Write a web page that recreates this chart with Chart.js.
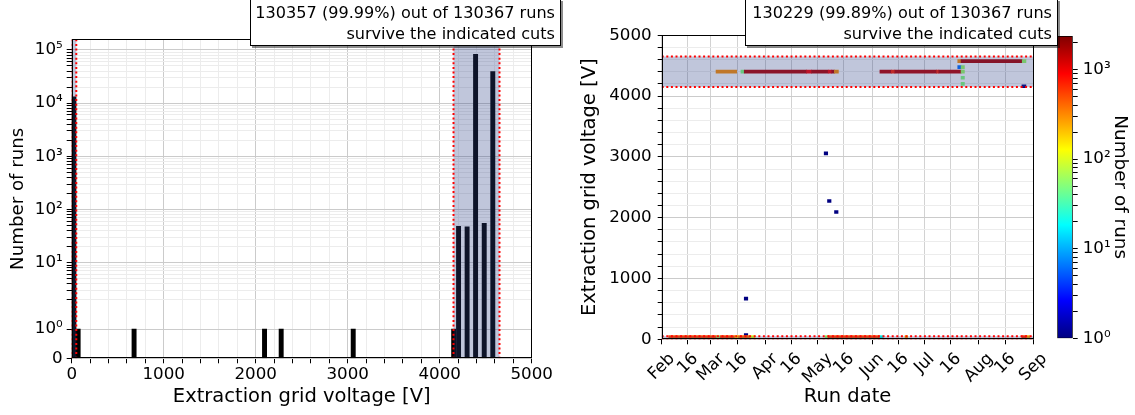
<!DOCTYPE html>
<html>
<head>
<meta charset="utf-8">
<script src="https://cdn.jsdelivr.net/npm/chart.js@4"></script>
<style>
  html, body { margin: 0; padding: 0; background: #fff; }
  #wrap { position: relative; width: 1135px; height: 415px; overflow: hidden; font-family: 'DejaVu Sans', sans-serif; }
  canvas { position: absolute; top: 0; }
  .cutbox {
    position: absolute; top: -1px; height: 47px; box-sizing: border-box;
    border: 1px solid #000; background: #fff; text-align: right;
    font-size: 16.1px; line-height: 21px; padding: 2px 5px 0 0;
    box-shadow: 2px 2px 0 rgba(0, 0, 0, 0.45); z-index: 5; white-space: nowrap;
  }
</style>
</head>
<body>
<div id="wrap">
  <canvas id="histChart" width="565" height="415" style="left:0"></canvas>
  <canvas id="dateChart" width="485" height="415" style="left:575px"></canvas>
  <canvas id="cbarChart" width="95" height="415" style="left:1040px"></canvas>
  <div class="cutbox" style="left:250px;width:311px">130357 (99.99%) out of 130367 runs<br>survive the indicated cuts</div>
  <div class="cutbox" style="left:745px;width:313px">130229 (99.89%) out of 130367 runs<br>survive the indicated cuts</div>
</div>
<script>
// left panel: histogram of extraction grid voltage (bin centres in V)
const binCenters = [23.5, 70, 678, 2096, 2277, 3060, 4152, 4205, 4298, 4390, 4484, 4577];
const binCounts = [13200, 1, 1, 1, 1, 1, 1, 48, 47, 83000, 55, 39100];

// accepted voltage windows [V]
const cutWindows = [[0, 50], [4150, 4650]];

// right panel: 2D histogram cells, voltage vs run date (day 0 = Feb 1)
const cellStart = [31.0, 45.2, 47.1, 82.7, 85.5, 95.0, 97.0, 98.5,
  124.5, 131.0, 133.0, 156.9, 158.1, 170.8,
  168.9, 170.8, 205.7,
  168.9, 170.8, 170.8, 170.8, 205.5,
  92.7, 94.6, 98.6, 47.1, 47.1,
  4.0, 31.4, 33.3, 41.8, 43.8, 50.3, 93.2, 95.0, 124.5, 138.8, 205.4, 208.2];
const cellEnd = [42.8, 47.1, 82.7, 85.5, 95.0, 97.0, 98.5, 100.8,
  131.0, 133.0, 156.9, 158.1, 170.8, 172.7,
  170.8, 205.7, 207.8,
  170.8, 172.7, 172.7, 172.7, 207.8,
  94.7, 96.6, 100.6, 49.1, 49.1,
  31.4, 33.3, 41.8, 43.8, 50.3, 53.2, 95.0, 124.5, 126.4, 140.3, 208.2, 210.1];
const cellVolt = [4400, 4400, 4400, 4400, 4400, 4400, 4400, 4400,
  4400, 4400, 4400, 4400, 4400, 4400,
  4575, 4575, 4575,
  4475, 4475, 4300, 4200, 4160,
  3058, 2274, 2093, 668, 71,
  38, 38, 38, 38, 38, 38, 38, 38, 38, 38, 38, 38];
const cellCount = [300, 50, 1600, 900, 1600, 900, 1600, 300,
  1500, 700, 1500, 700, 1500, 60,
  300, 1700, 60,
  6, 60, 50, 50, 1,
  1, 1, 1, 1, 1,
  500, 60, 500, 150, 400, 100, 60, 500, 20, 200, 600, 250];

const dateTickDays = [0, 15, 28, 43, 59, 74, 89, 104, 120, 135, 150, 165, 181, 196, 212];
const dateTickLabels = ['Feb', '16', 'Mar', '16', 'Apr', '16', 'May', '16', 'Jun', '16', 'Jul', '16', 'Aug', '16', 'Sep'];

const runsTicks = [0, 1, 10, 100, 1000, 10000, 100000];
const runsTickLabels = ['0', '10⁰', '10¹', '10²', '10³', '10⁴', '10⁵'];
const countTicks = [1, 10, 100, 1000];
const countTickLabels = ['10⁰', '10¹', '10²', '10³'];
const CMAX = 2360;

const TICK_FONT = 16.7;
Chart.defaults.font.family = "'DejaVu Sans', sans-serif";
Chart.defaults.font.size = TICK_FONT;
Chart.defaults.color = '#000';
Chart.defaults.animation = false;

const MAJOR_GRID = '#cbcbcb';
const MINOR_GRID = '#ececec';
const SHADE = 'rgba(45, 65, 135, 0.3)';

function jet(t) {
  const c = v => Math.round(255 * Math.max(0, Math.min(1, v)));
  return 'rgb(' + c(1.5 - Math.abs(4 * t - 3)) + ',' + c(1.5 - Math.abs(4 * t - 2)) + ',' + c(1.5 - Math.abs(4 * t - 1)) + ')';
}
function countColor(n) {
  return jet(Math.log10(n) / Math.log10(CMAX));
}

// minor ticks 2..9 per decade
function withMinors(majors, fromDecade, toDecade) {
  const out = majors.slice();
  for (let k = fromDecade; k <= toDecade; k++) {
    for (let m = 2; m <= 9; m++) out.push(m * Math.pow(10, k));
  }
  return out.sort((a, b) => a - b);
}

// symmetric log axis, linear below 2
const LIN_THRESH = 2, LIN_SCALE = 0.55;
class SymlogScale extends Chart.LinearScale {
  tf(v) {
    return v <= LIN_THRESH ? v * LIN_SCALE : LIN_THRESH * LIN_SCALE + Math.log10(v / LIN_THRESH);
  }
  itf(t) {
    return t <= LIN_THRESH * LIN_SCALE ? t / LIN_SCALE : LIN_THRESH * Math.pow(10, t - LIN_THRESH * LIN_SCALE);
  }
  buildTicks() {
    return withMinors(runsTicks, 0, 4).map(v => ({ value: v }));
  }
  getPixelForValue(v) {
    const a = this.tf(this.min), b = this.tf(this.max);
    return this.getPixelForDecimal((this.tf(v) - a) / (b - a));
  }
  getValueForPixel(p) {
    const a = this.tf(this.min), b = this.tf(this.max);
    return this.itf(a + this.getDecimalForPixel(p) * (b - a));
  }
}
SymlogScale.id = 'symlog';
SymlogScale.defaults = {};
Chart.register(SymlogScale);

const framePlugin = {
  id: 'frame',
  afterDraw(chart) {
    const { ctx, chartArea: a } = chart;
    ctx.save();
    ctx.strokeStyle = '#000';
    ctx.lineWidth = 1;
    ctx.strokeRect(Math.round(a.left) + 0.5, Math.round(a.top) + 0.5, Math.round(a.right - a.left) - 1, Math.round(a.bottom - a.top) - 1);
    ctx.restore();
  }
};

function cutPlugin(axisKey) {
  return {
    id: 'cuts',
    afterDatasetsDraw(chart) {
      const { ctx, chartArea: a } = chart;
      const s = chart.scales[axisKey];
      ctx.save();
      ctx.beginPath();
      ctx.rect(a.left, a.top, a.right - a.left, a.bottom - a.top);
      ctx.clip();
      cutWindows.forEach(([lo, hi]) => {
        const p0 = s.getPixelForValue(lo), p1 = s.getPixelForValue(hi);
        ctx.fillStyle = SHADE;
        if (axisKey === 'x') ctx.fillRect(p0, a.top, p1 - p0, a.bottom - a.top);
        else ctx.fillRect(a.left, p1, a.right - a.left, p0 - p1);
        ctx.strokeStyle = '#ff0000';
        ctx.lineWidth = 2;
        ctx.setLineDash([2, 2.6]);
        [p0, p1].forEach(p => {
          ctx.beginPath();
          if (axisKey === 'x') { ctx.moveTo(p, a.top); ctx.lineTo(p, a.bottom); }
          else { ctx.moveTo(a.left, p); ctx.lineTo(a.right, p); }
          ctx.stroke();
        });
      });
      ctx.restore();
    }
  };
}

// rotated date labels, centred under their ticks like matplotlib's default
const dateLabelPlugin = {
  id: 'dateLabels',
  afterDraw(chart) {
    const s = chart.scales.x, ctx = chart.ctx;
    const ang = 45 * Math.PI / 180;
    const inkH = 0.76 * TICK_FONT;
    ctx.save();
    ctx.font = TICK_FONT + "px 'DejaVu Sans', sans-serif";
    ctx.fillStyle = '#000';
    ctx.textAlign = 'center';
    ctx.textBaseline = 'middle';
    s.ticks.forEach((t, i) => {
      const txt = dateTickLabels[i];
      const w = ctx.measureText(txt).width;
      const boxH = w * Math.sin(ang) + inkH * Math.cos(ang);
      ctx.save();
      ctx.translate(s.getPixelForValue(t.value), chart.chartArea.bottom + 12.5 + boxH / 2);
      ctx.rotate(-ang);
      ctx.fillText(txt, 0, 0);
      ctx.restore();
    });
    ctx.restore();
  }
};

// left: histogram
new Chart(document.getElementById('histChart'), {
  type: 'bar',
  data: {
    datasets: [{
      data: binCenters.map((x, i) => ({ x: x, y: binCounts[i] })),
      backgroundColor: '#000',
      borderWidth: 0,
      barPercentage: 1,
      categoryPercentage: 1
    }]
  },
  options: {
    responsive: false,
    animation: false,
    layout: { padding: { top: 39.3, right: 33.3, left: 0, bottom: 0 } },
    plugins: { legend: { display: false }, tooltip: { enabled: false } },
    scales: {
      x: {
        type: 'linear', min: 0, max: 5000, offset: false, z: 1,
        ticks: { stepSize: 200, autoSkip: false, maxRotation: 0, padding: 1,
          callback: v => (v % 1000 === 0 ? String(v) : '') },
        grid: { offset: false, tickLength: 5, tickColor: '#000',
          color: c => (c.tick && c.tick.value % 1000 === 0 ? MAJOR_GRID : MINOR_GRID) },
        border: { display: false },
        title: { display: true, text: 'Extraction grid voltage [V]', font: { size: 19.5 }, padding: { top: 0, bottom: 6.5 } },
        afterFit: ax => { ax.height = 56.7; }
      },
      y: {
        type: 'symlog', min: 0, max: 158900, z: 1,
        ticks: { autoSkip: false, padding: 4,
          callback: v => { const i = runsTicks.indexOf(v); return i >= 0 ? runsTickLabels[i] : ''; } },
        grid: { tickLength: 5, tickColor: '#000',
          color: c => (c.tick && runsTicks.indexOf(c.tick.value) >= 0 ? MAJOR_GRID : MINOR_GRID) },
        border: { display: false },
        title: { display: true, text: 'Number of runs', font: { size: 18.2 }, padding: { top: 7, bottom: 0 } },
        afterFit: ax => { ax.width = 71.7; }
      }
    }
  },
  plugins: [cutPlugin('x'), framePlugin]
});

// right: voltage vs date
new Chart(document.getElementById('dateChart'), {
  type: 'bar',
  data: {
    datasets: [{
      data: cellVolt.map((v, i) => ({ y: v, x: [cellStart[i], cellEnd[i]] })),
      backgroundColor: c => countColor(cellCount[c.dataIndex]),
      borderWidth: 0,
      barThickness: 3
    }]
  },
  options: {
    indexAxis: 'y',
    responsive: false,
    animation: false,
    layout: { padding: { top: 35.2, right: 26.7, left: 0, bottom: 0 } },
    plugins: { legend: { display: false }, tooltip: { enabled: false } },
    scales: {
      x: {
        type: 'linear', min: 0, max: 212,
        afterBuildTicks: ax => { ax.ticks = dateTickDays.map(v => ({ value: v })); },
        ticks: { display: false, autoSkip: false },
        grid: { color: '#d2d2d2', tickLength: 5, tickColor: '#000' },
        border: { display: false },
        title: { display: true, text: 'Run date', font: { size: 19.5 }, padding: { top: 0, bottom: 6.5 } },
        afterFit: ax => { ax.height = 75.7; }
      },
      y: {
        type: 'linear', min: 0, max: 5000, offset: false,
        ticks: { stepSize: 200, autoSkip: false, padding: 6,
          callback: v => (v % 1000 === 0 ? String(v) : '') },
        grid: { offset: false, tickLength: 4, tickColor: '#000',
          color: c => (c.tick && c.tick.value % 1000 === 0 ? MAJOR_GRID : MINOR_GRID) },
        border: { display: false },
        title: { display: true, text: 'Extraction grid voltage [V]', font: { size: 19.5 }, padding: { top: 3.3, bottom: 0 } },
        afterFit: ax => { ax.width = 86.7; }
      }
    }
  },
  plugins: [cutPlugin('y'), framePlugin, dateLabelPlugin]
});

// colour bar
new Chart(document.getElementById('cbarChart'), {
  type: 'bar',
  data: {
    labels: [''],
    datasets: [{
      data: [[1, CMAX]],
      backgroundColor: c => {
        const area = c.chart.chartArea;
        if (!area) return '#000';
        const g = c.chart.ctx.createLinearGradient(0, area.bottom, 0, area.top);
        for (let i = 0; i <= 32; i++) g.addColorStop(i / 32, jet(i / 32));
        return g;
      },
      borderColor: '#000',
      borderWidth: 1,
      borderSkipped: false,
      barPercentage: 1,
      categoryPercentage: 1
    }]
  },
  options: {
    responsive: false,
    animation: false,
    layout: { padding: { left: 17.3, top: 36, bottom: 76.7, right: 0 } },
    plugins: { legend: { display: false }, tooltip: { enabled: false } },
    scales: {
      x: { display: false },
      y: {
        type: 'logarithmic', position: 'right', min: 1, max: CMAX,
        afterBuildTicks: ax => { ax.ticks = withMinors(countTicks, 0, 2).concat([2000]).map(v => ({ value: v })); },
        ticks: { autoSkip: false, padding: 5,
          callback: v => { const i = countTicks.indexOf(v); return i >= 0 ? countTickLabels[i] : ''; } },
        grid: { drawOnChartArea: false, tickLength: 5, tickColor: '#000' },
        border: { display: false },
        title: { display: true, text: 'Number of runs', font: { size: 18.4 }, padding: { top: 4, bottom: 0 } },
        afterFit: ax => { ax.width = 62.3; }
      }
    }
  }
});
</script>
</body>
</html>
